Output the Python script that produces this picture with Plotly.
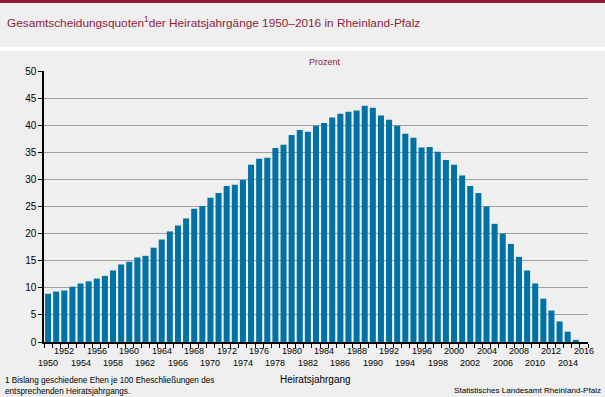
import plotly.graph_objects as go

years = list(range(1950, 2017))
values = [8.9, 9.3, 9.5, 10.2, 10.8, 11.2, 11.7, 12.2, 13.2, 14.3,
          14.8, 15.6, 15.9, 17.4, 18.9, 20.4, 21.5, 22.8, 24.6, 25.1,
          26.6, 27.5, 28.8, 29.0, 29.9, 32.7, 33.8, 34.0, 35.8, 36.4,
          38.2, 39.1, 38.8, 39.9, 40.4, 41.4, 42.1, 42.5, 42.7, 43.6,
          43.2, 41.8, 41.0, 39.9, 38.4, 37.7, 35.9, 36.0, 35.1, 33.6,
          32.7, 30.7, 28.8, 27.5, 25.0, 21.8, 20.0, 18.1, 15.7, 13.2,
          10.8, 8.0, 5.8, 3.8, 1.9, 0.4, None]
upper_labels = list(range(1952, 2017, 4))
lower_labels = list(range(1950, 2015, 4))
y_ticks = list(range(0, 51, 5))

W, H = 605, 397
ML, MR, MT, MB = 44, 17, 71, 55
PH = H - MT - MB
PW = W - ML - MR

def py(p):
    return (H - MB - p) / PH

def px(p):
    return (p - ML) / PW

BAR = "#0072A3"
MAROON = "#8C1D40"
FONT = "Liberation Sans, Arial, sans-serif"

fig = go.Figure(go.Bar(x=years, y=values, marker_color=BAR, marker_line_width=0))

annotations = []
for yr in upper_labels:
    annotations.append(dict(x=yr, y=py(351), xref="x", yref="paper", text=str(yr),
                            showarrow=False, font=dict(size=9, color="#000"),
                            xanchor="center", yanchor="middle"))
for yr in lower_labels:
    annotations.append(dict(x=yr, y=py(363), xref="x", yref="paper", text=str(yr),
                            showarrow=False, font=dict(size=9, color="#000"),
                            xanchor="center", yanchor="middle"))

annotations += [
    dict(x=px(5), y=py(22), xref="paper", yref="paper", xanchor="left", yanchor="middle",
         text="Gesamtscheidungsquoten<sup>1</sup>der Heiratsjahrgänge 1950–2016 in Rheinland-Pfalz",
         showarrow=False, font=dict(size=11.8, color=MAROON)),
    dict(x=px(325), y=py(62), xref="paper", yref="paper", xanchor="center", yanchor="middle",
         text="Prozent", showarrow=False, font=dict(size=9, color=MAROON)),
    dict(x=px(315), y=py(380), xref="paper", yref="paper", xanchor="center", yanchor="middle",
         text="Heiratsjahrgang", showarrow=False, font=dict(size=10, color="#000")),
    dict(x=px(3), y=py(386), xref="paper", yref="paper", xanchor="left", yanchor="middle",
         text="1 Bislang geschiedene Ehen je 100 Eheschließungen des<br>entsprechenden Heiratsjahrgangs.",
         align="left", showarrow=False, font=dict(size=8.2, color="#000")),
    dict(x=px(603), y=py(390), xref="paper", yref="paper", xanchor="right", yanchor="middle",
         text="Statistisches Landesamt Rheinland-Pfalz", showarrow=False,
         font=dict(size=8.1, color="#000")),
]

shapes = [
    dict(type="rect", xref="paper", yref="paper", x0=px(-2), x1=px(W + 2),
         y0=py(3), y1=py(-2), fillcolor="#8B1A32", line_width=0, layer="above"),
    dict(type="rect", xref="paper", yref="paper", x0=px(-2), x1=px(W + 2),
         y0=py(51), y1=py(47), fillcolor="#FFFFFF", line_width=0, layer="below"),
]

fig.update_layout(
    width=W, height=H,
    margin=dict(l=ML, r=MR, t=MT, b=MB),
    paper_bgcolor="#EEEFEE", plot_bgcolor="#EEEFEE",
    font=dict(family=FONT, size=9, color="#000"),
    showlegend=False,
    bargap=0.26,
    annotations=annotations,
    shapes=shapes,
    xaxis=dict(range=[1949.5, 2016.5], showticklabels=False, tickmode="linear",
               tick0=1949.5, dtick=1, ticks="outside", ticklen=4, tickcolor="#000",
               showline=True, linecolor="#000", linewidth=1.5, showgrid=False, zeroline=False),
    yaxis=dict(range=[0, 50], tickvals=y_ticks, ticks="outside", ticklen=4, tickcolor="#000",
               showline=True, linecolor="#000", linewidth=1.5, gridcolor="#A0A0A0", gridwidth=1,
               zeroline=False, tickfont=dict(size=10)),
)

fig.write_html("out.html", config={"displayModeBar": False},
               post_script="document.body.style.margin='0';document.body.style.padding='0';"
                           "document.body.style.overflow='hidden';")
